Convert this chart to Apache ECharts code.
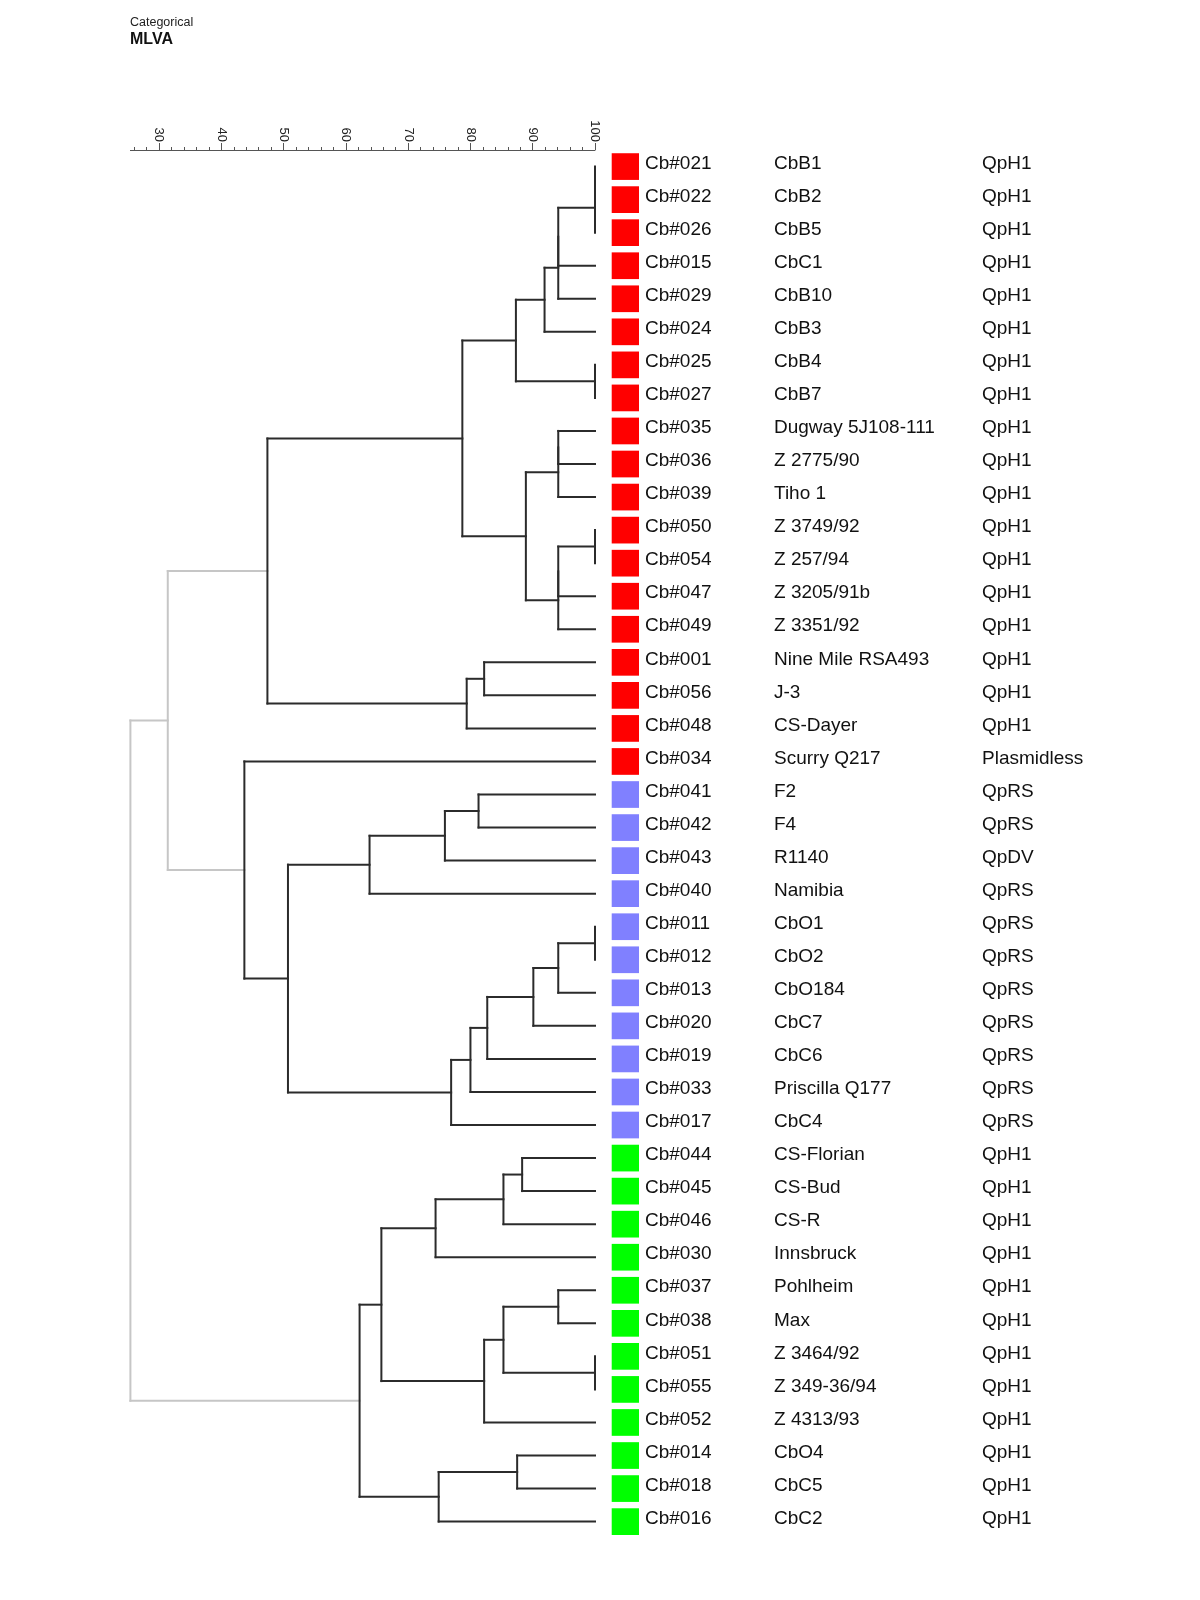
<!DOCTYPE html>
<html>
<head>
<meta charset="utf-8">
<script src="https://cdn.jsdelivr.net/npm/echarts@6/dist/echarts.min.js"></script>
<style>
  html, body { margin: 0; padding: 0; background: #ffffff; }
  #chart { width: 1200px; height: 1600px; }
</style>
</head>
<body>
<div id="chart"></div>
<script>
// ---------------- DATA ----------------
const strainIds = [
  'Cb#021','Cb#022','Cb#026','Cb#015','Cb#029','Cb#024','Cb#025','Cb#027',
  'Cb#035','Cb#036','Cb#039','Cb#050','Cb#054','Cb#047','Cb#049',
  'Cb#001','Cb#056','Cb#048','Cb#034',
  'Cb#041','Cb#042','Cb#043','Cb#040','Cb#011','Cb#012','Cb#013','Cb#020',
  'Cb#019','Cb#033','Cb#017',
  'Cb#044','Cb#045','Cb#046','Cb#030','Cb#037','Cb#038','Cb#051','Cb#055',
  'Cb#052','Cb#014','Cb#018','Cb#016'
];
const strainNames = [
  'CbB1','CbB2','CbB5','CbC1','CbB10','CbB3','CbB4','CbB7',
  'Dugway 5J108-111','Z 2775/90','Tiho 1','Z 3749/92','Z 257/94','Z 3205/91b','Z 3351/92',
  'Nine Mile RSA493','J-3','CS-Dayer','Scurry Q217',
  'F2','F4','R1140','Namibia','CbO1','CbO2','CbO184','CbC7',
  'CbC6','Priscilla Q177','CbC4',
  'CS-Florian','CS-Bud','CS-R','Innsbruck','Pohlheim','Max','Z 3464/92','Z 349-36/94',
  'Z 4313/93','CbO4','CbC5','CbC2'
];
const plasmidTypes = [
  'QpH1','QpH1','QpH1','QpH1','QpH1','QpH1','QpH1','QpH1',
  'QpH1','QpH1','QpH1','QpH1','QpH1','QpH1','QpH1',
  'QpH1','QpH1','QpH1','Plasmidless',
  'QpRS','QpRS','QpDV','QpRS','QpRS','QpRS','QpRS','QpRS',
  'QpRS','QpRS','QpRS',
  'QpH1','QpH1','QpH1','QpH1','QpH1','QpH1','QpH1','QpH1',
  'QpH1','QpH1','QpH1','QpH1'
];
// MLVA categorical group per strain (1, 2, 3)
const mlvaCategory = [
  1,1,1,1,1,1,1,1, 1,1,1,1,1,1,1, 1,1,1,1,
  2,2,2,2,2,2,2,2, 2,2,2,
  3,3,3,3,3,3,3,3, 3,3,3,3
];
// Dendrogram merges: [child A, child B, similarity %]
// numbers = leaf rows, 'nK' = result of merge K
const merges = [
  [0, 1, 100],        // n0
  ['n0', 2, 100],     // n1
  ['n1', 3, 94.1],    // n2
  ['n2', 4, 94.1],    // n3
  ['n3', 5, 91.9],    // n4
  [6, 7, 100],        // n5
  ['n4', 'n5', 87.3], // n6
  [8, 9, 94.1],       // n7
  ['n7', 10, 94.1],   // n8
  [11, 12, 100],      // n9
  ['n9', 13, 94.1],   // n10
  ['n10', 14, 94.1],  // n11
  ['n8', 'n11', 88.9],// n12
  ['n6', 'n12', 78.7],// n13
  [15, 16, 82.2],     // n14
  ['n14', 17, 79.4],  // n15
  ['n13', 'n15', 47.4],// n16
  [19, 20, 81.3],     // n17
  ['n17', 21, 75.9],  // n18
  ['n18', 22, 63.8],  // n19
  [23, 24, 100],      // n20
  ['n20', 25, 94.1],  // n21
  ['n21', 26, 90.1],  // n22
  ['n22', 27, 82.7],  // n23
  ['n23', 28, 80.0],  // n24
  ['n24', 29, 76.9],  // n25
  ['n19', 'n25', 50.7],// n26
  [18, 'n26', 43.7],  // n27
  ['n16', 'n27', 31.4],// n28
  [30, 31, 88.3],     // n29
  ['n29', 32, 85.3],  // n30
  ['n30', 33, 74.4],  // n31
  [34, 35, 94.1],     // n32
  [36, 37, 100],      // n33
  ['n32', 'n33', 85.3],// n34
  ['n34', 38, 82.2],  // n35
  ['n31', 'n35', 65.7],// n36
  [39, 40, 87.5],     // n37
  ['n37', 41, 74.9],  // n38
  ['n36', 'n38', 62.2],// n39
  ['n28', 'n39', 25.4] // n40 (root)
];
const axisMin = 25.4;
const axisMax = 100;
const majorTicks = [30, 40, 50, 60, 70, 80, 90, 100];
const minorTicks = [26, 28, 30, 32, 34, 36, 38, 40, 42, 44, 46, 48, 50, 52, 54, 56, 58, 60,
  62, 64, 66, 68, 70, 72, 74, 76, 78, 80, 82, 84, 86, 88, 90, 92, 94, 96, 98, 100];

// ---------------- BUILD ----------------
const categoryColors = { 1: '#ff0000', 2: '#8080ff', 3: '#00ff00' };
const grayBelow = 40; // nodes below this similarity are drawn in light gray

const nodes = [];
function ref(r) {
  if (typeof r === 'number') return { x: 100, y: r };
  return nodes[+r.slice(1)];
}
const segments = [];
merges.forEach(function (m) {
  const A = ref(m[0]), B = ref(m[1]), s = m[2];
  const g = s < grayBelow ? 1 : 0;
  segments.push([s, A.y, s, B.y, g]);
  if (A.x !== s) segments.push([s, A.y, A.x, A.y, g]);
  if (B.x !== s) segments.push([s, B.y, B.x, B.y, g]);
  nodes.push({ x: s, y: (A.y + B.y) / 2 });
});
segments.sort(function (a, b) { return b[4] - a[4]; });

const leafData = strainIds.map(function (id, i) { return [100, i, mlvaCategory[i]]; });

const FONT = '"Liberation Sans", Arial, sans-serif';

const chart = echarts.init(document.getElementById('chart'), null, { renderer: 'canvas' });
chart.setOption({
  animation: false,
  backgroundColor: '#ffffff',
  graphic: [
    { type: 'text', left: 130, top: 16, style: { text: 'Categorical', font: '12.5px ' + FONT, fill: '#222' } },
    { type: 'text', left: 130, top: 32, style: { text: 'MLVA', font: 'bold 16px ' + FONT, fill: '#111' } }
  ],
  grid: { left: 130.4, width: 464.6, top: 150, height: 1388.1, containLabel: false },
  xAxis: [
    {
      type: 'value', position: 'top', min: axisMin, max: axisMax,
      axisLine: { show: true, onZero: false, lineStyle: { color: '#555', width: 1 } },
      axisTick: { show: true, inside: false, customValues: minorTicks, length: 3, lineStyle: { color: '#555', width: 1 } },
      axisLabel: { show: false },
      splitLine: { show: false }
    },
    {
      type: 'value', position: 'top', min: axisMin, max: axisMax,
      axisLine: { show: false, onZero: false },
      axisTick: { show: true, inside: false, customValues: majorTicks, length: 7, lineStyle: { color: '#555', width: 1 } },
      axisLabel: { show: true, customValues: majorTicks, rotate: 90, margin: 8, fontSize: 13, fontFamily: FONT, color: '#222' },
      splitLine: { show: false }
    }
  ],
  yAxis: { type: 'value', min: -0.5, max: strainIds.length - 0.5, inverse: true, show: false },
  series: [
    {
      type: 'custom',
      xAxisIndex: 0,
      data: segments,
      dimensions: ['x1', 'y1', 'x2', 'y2', 'g'],
      encode: { x: [0, 2], y: [1, 3] },
      renderItem: function (params, api) {
        const p1 = api.coord([api.value(0), api.value(1)]);
        const p2 = api.coord([api.value(2), api.value(3)]);
        const gray = api.value(4) === 1;
        return {
          type: 'line',
          shape: { x1: p1[0], y1: p1[1], x2: p2[0], y2: p2[1] },
          style: { stroke: gray ? '#c6c6c6' : '#2b2b2b', lineWidth: 2, lineCap: 'square' }
        };
      }
    },
    {
      type: 'custom',
      xAxisIndex: 0,
      data: leafData,
      encode: { x: 0, y: 1 },
      renderItem: function (params, api) {
        const i = params.dataIndex;
        const p = api.coord([api.value(0), api.value(1)]);
        const cx = p[0], cy = p[1];
        const ty = cy - 3;
        return {
          type: 'group',
          children: [
            { type: 'rect', shape: { x: cx + 16.7, y: cy - 13.3, width: 27.3, height: 26.7 },
              style: { fill: categoryColors[api.value(2)] } },
            { type: 'text', style: { text: strainIds[i], x: cx + 50, y: ty, font: '19px ' + FONT, fill: '#111', verticalAlign: 'middle' } },
            { type: 'text', style: { text: strainNames[i], x: cx + 179, y: ty, font: '19px ' + FONT, fill: '#111', verticalAlign: 'middle' } },
            { type: 'text', style: { text: plasmidTypes[i], x: cx + 387, y: ty, font: '19px ' + FONT, fill: '#111', verticalAlign: 'middle' } }
          ]
        };
      }
    }
  ]
});
</script>
</body>
</html>
